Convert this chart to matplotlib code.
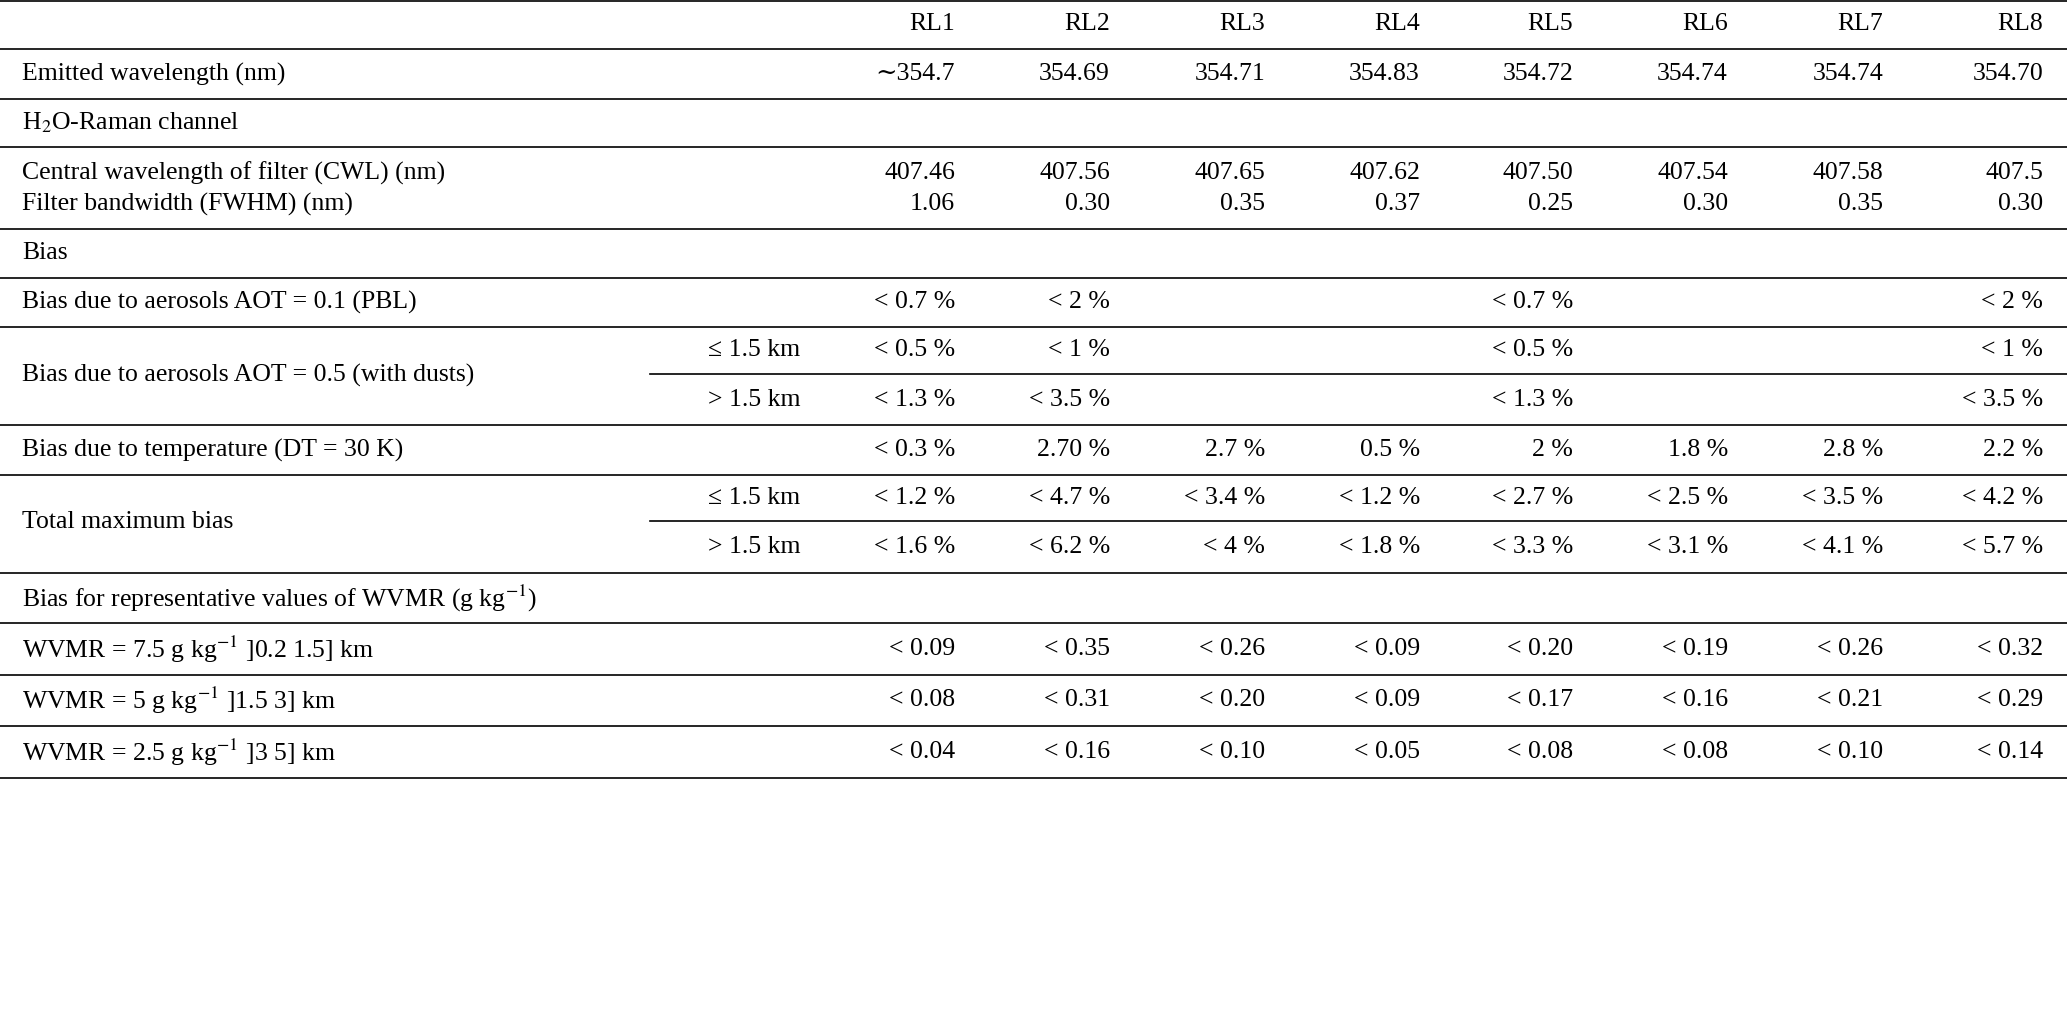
import matplotlib
matplotlib.use("Agg")
import matplotlib.pyplot as plt

plt.rcParams['font.family'] = ['Liberation Serif', 'DejaVu Serif']
plt.rcParams['mathtext.fontset'] = 'stix'

cols = ["RL1", "RL2", "RL3", "RL4", "RL5", "RL6", "RL7", "RL8"]
emitted = ["∼354.7", "354.69", "354.71", "354.83", "354.72", "354.74", "354.74", "354.70"]
cwl = ["407.46", "407.56", "407.65", "407.62", "407.50", "407.54", "407.58", "407.5"]
fwhm = ["1.06", "0.30", "0.35", "0.37", "0.25", "0.30", "0.35", "0.30"]
aot01 = ["< 0.7 %", "< 2 %", "", "", "< 0.7 %", "", "", "< 2 %"]
aot05_low = ["< 0.5 %", "< 1 %", "", "", "< 0.5 %", "", "", "< 1 %"]
aot05_high = ["< 1.3 %", "< 3.5 %", "", "", "< 1.3 %", "", "", "< 3.5 %"]
temp = ["< 0.3 %", "2.70 %", "2.7 %", "0.5 %", "2 %", "1.8 %", "2.8 %", "2.2 %"]
tot_low = ["< 1.2 %", "< 4.7 %", "< 3.4 %", "< 1.2 %", "< 2.7 %", "< 2.5 %", "< 3.5 %", "< 4.2 %"]
tot_high = ["< 1.6 %", "< 6.2 %", "< 4 %", "< 1.8 %", "< 3.3 %", "< 3.1 %", "< 4.1 %", "< 5.7 %"]
w75 = ["< 0.09", "< 0.35", "< 0.26", "< 0.09", "< 0.20", "< 0.19", "< 0.26", "< 0.32"]
w5 = ["< 0.08", "< 0.31", "< 0.20", "< 0.09", "< 0.17", "< 0.16", "< 0.21", "< 0.29"]
w25 = ["< 0.04", "< 0.16", "< 0.10", "< 0.05", "< 0.08", "< 0.08", "< 0.10", "< 0.14"]

fig = plt.figure(figsize=(20.67, 10.30), dpi=100)
ax = fig.add_axes([0, 0, 1, 1])
ax.set_xlim(0, 2067)
ax.set_ylim(1030, 0)
ax.axis('off')

fs = 18.5
col_x = [955, 1110, 1265, 1420, 1573, 1728, 1883, 2043]
left = 22
sub_x = 800

def row(y, label, vals=None, sub=None):
    if label:
        ax.text(left, y, label, fontsize=fs, va='center', ha='left')
    if sub:
        ax.text(sub_x, y, sub, fontsize=fs, va='center', ha='right')
    if vals:
        for x, v in zip(col_x, vals):
            if v:
                ax.text(x, y, v, fontsize=fs, va='center', ha='right')

def hline(y, x0=0, x1=2067):
    ax.plot([x0, x1], [y, y], color='black', lw=1.2)

for y in [1, 49, 99, 147, 229, 278, 327, 425, 475, 573, 623, 675, 726, 778]:
    hline(y)
hline(374, 650)
hline(521, 650)

row(24, None, cols)
row(74, "Emitted wavelength (nm)", emitted)
row(123, r"H$_2$O-Raman channel")
row(173, "Central wavelength of filter (CWL) (nm)", cwl)
row(204, "Filter bandwidth (FWHM) (nm)", fwhm)
row(253, "Bias")
row(302, "Bias due to aerosols AOT = 0.1 (PBL)", aot01)
ax.text(left, 375, "Bias due to aerosols AOT = 0.5 (with dusts)", fontsize=fs, va='center')
row(350, None, aot05_low, sub="≤ 1.5 km")
row(400, None, aot05_high, sub="> 1.5 km")
row(450, "Bias due to temperature (DT = 30 K)", temp)
ax.text(left, 522, "Total maximum bias", fontsize=fs, va='center')
row(498, None, tot_low, sub="≤ 1.5 km")
row(547, None, tot_high, sub="> 1.5 km")
row(598, r"Bias for representative values of WVMR (g kg$^{-1}$)")
row(649, r"WVMR = 7.5 g kg$^{-1}$ ]0.2 1.5] km", w75)
row(700, r"WVMR = 5 g kg$^{-1}$ ]1.5 3] km", w5)
row(752, r"WVMR = 2.5 g kg$^{-1}$ ]3 5] km", w25)

fig.savefig("out.png", dpi=100)
